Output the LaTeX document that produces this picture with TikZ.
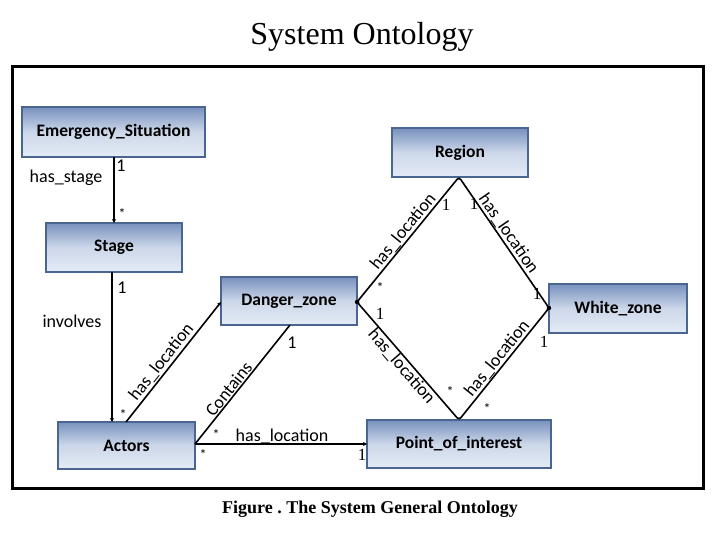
\documentclass[tikz,border=0pt]{standalone}
\usepackage{fontspec}
\setmainfont{Liberation Serif}
\newfontfamily\calib{Carlito}
\usetikzlibrary{arrows.meta}
\definecolor{boxborder}{HTML}{4A6590}
\definecolor{boxtop}{HTML}{7891BE}
\definecolor{boxbot}{HTML}{E4EBF5}
\tikzset{
  cls/.style={draw=boxborder, line width=2.2pt, top color=boxtop, bottom color=boxbot, middle color=boxbot!78!boxtop,
    font=\calib\bfseries\fontsize{17.5}{19}\selectfont, text=black, inner sep=0pt},
  rel/.style={line width=1.6pt, black},
  arr/.style={rel, -{Stealth[length=4pt,width=4pt]}},
  lab/.style={font=\calib\fontsize{18}{20}\selectfont, inner sep=1pt},
  slab/.style={font=\rmfamily\fontsize{17}{19}\selectfont, inner sep=1pt},
  star/.style={font=\calib\fontsize{14}{15}\selectfont, inner sep=0pt}
}
\begin{document}
\frenchspacing
\begin{tikzpicture}[x=1pt,y=-1pt]
\useasboundingbox (0,0) rectangle (720,540);
\node[font=\rmfamily\fontsize{32}{35}\selectfont] (title) at (362,37) {System Ontology};
\draw[line width=3pt] (12,67) rectangle (703,488);
\node[font=\rmfamily\bfseries\fontsize{18}{20}\selectfont] (cap) at (370,509) {Figure . The System General Ontology};

% classes
\node[cls, minimum width=183pt, minimum height=50pt] (es) at (113.5,132) {Emergency\_Situation};
\node[cls, minimum width=136pt, minimum height=49pt] (stage) at (114,247.5) {Stage};
\node[cls, minimum width=136pt, minimum height=49pt] (region) at (460,152.5) {Region};
\node[cls, minimum width=138pt, minimum height=49pt] (white) at (618,308.5) {White\_zone};
\node[cls, minimum width=136pt, minimum height=48pt] (danger) at (289,301) {Danger\_zone};
\node[cls, minimum width=137pt, minimum height=47pt] (actors) at (126.5,445.5) {Actors};
\node[cls, minimum width=184pt, minimum height=48pt] (poi) at (459,444) {Point\_of\_interest};

% anchor points
\coordinate (esb) at (114,157);
\coordinate (stt) at (114,223);
\coordinate (stb) at (112,272);
\coordinate (act) at (112,422);
\coordinate (acttr) at (126,422);
\coordinate (actr) at (195,444);
\coordinate (dzl) at (221,302);
\coordinate (dzb) at (290,325);
\coordinate (dzr) at (357,302);
\coordinate (rb) at (459,177);
\coordinate (wzl) at (549,308);
\coordinate (poit) at (459,420);
\coordinate (poil) at (367,444);

% connectors
\draw[arr] (esb) -- (stt);
\node[lab] (l1) at (121,166) {1};
\node[lab] (hs) at (66,178) {has\_stage};
\node[star] (s1) at (122,214) {*};

\draw[arr] (stb) -- (act);
\node[lab] (l2) at (122,288) {1};
\node[lab] (inv) at (72,321) {involves};

\draw[arr] (acttr) -- node[lab, sloped, above, pos=0.45] (hl1) {has\_location} (dzl);
\node[star] (s2) at (123,415) {*};

\draw[rel] (actr) -- node[lab, sloped, above, pos=0.42] (ct) {Contains} (dzb);
\node[lab] (l3) at (292,343) {1};
\node[star] (s3) at (216,435) {*};

\draw[arr] (actr) -- (poil);
\node[lab] (hl2) at (282,436) {has\_location};
\node[star] (s4) at (203,455) {*};
\node[slab] (l4) at (362,455) {1};

% diamond
\draw[rel, rounded corners=3pt] (dzr) -- (rb) -- (wzl) -- (poit) -- cycle;
\fill (dzr) circle (2.2pt);
\fill (wzl) circle (2.2pt);
\path (dzr) -- node[lab, sloped, above, pos=0.52] (hl3) {has\_location} (rb);
\path (rb) -- node[lab, sloped, above, pos=0.47] (hl4) {has\_location} (wzl);
\path (dzr) -- node[lab, sloped, below, pos=0.5] (hl5) {has\_location} (poit);
\path (poit) -- node[lab, sloped, above, pos=0.5] (hl6) {has\_location} (wzl);
\node[slab] (l5) at (446,205) {1};
\node[slab] (l6) at (474,204) {1};
\node[star] (s5) at (380,288) {*};
\node[slab] (l7) at (380,314) {1};
\node[slab] (l8) at (537,294) {1};
\node[slab] (l9) at (544,342) {1};
\node[star] (s6) at (450,392) {*};
\node[star] (s7) at (487,409) {*};
\end{tikzpicture}
\end{document}
